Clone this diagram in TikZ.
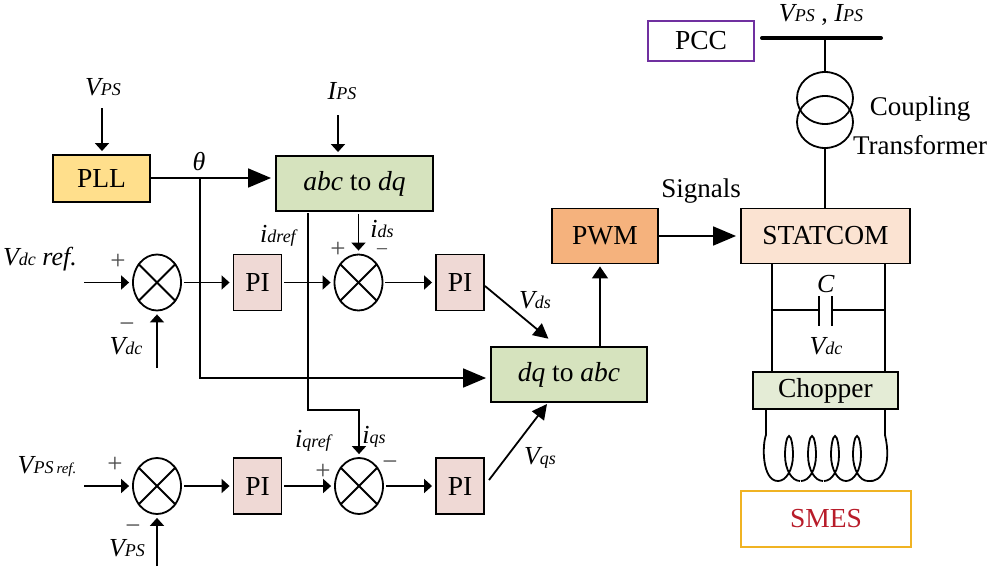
\documentclass[tikz,border=0pt]{standalone}
\usepackage{fontspec}
\setmainfont{Liberation Serif}
\usepackage{tikz}
\usetikzlibrary{arrows.meta, shapes.geometric}

\definecolor{pllfill}{HTML}{FFDF8C}
\definecolor{dqfill}{HTML}{D6E3BE}
\definecolor{pifill}{HTML}{EFD9D5}
\definecolor{pwmfill}{HTML}{F5B27D}
\definecolor{statfill}{HTML}{FBE3D2}
\definecolor{chopfill}{HTML}{E4ECD6}
\definecolor{pccline}{HTML}{7030A0}
\definecolor{smesline}{HTML}{F0B323}
\definecolor{smestext}{HTML}{B81C2A}

\newcommand{\lab}[2]{\textit{#1{\fontsize{18}{18}\selectfont #2}}}

\tikzset{
  blk/.style={draw, line width=1.9pt, minimum width=#1, inner sep=0pt, font=\fontsize{27.5}{27.5}\selectfont},
  pibox/.style={blk=48pt, fill=pifill, minimum height=56pt},
  sumnode/.style={draw, ellipse, line width=1.8pt, minimum width=48pt, minimum height=56pt, inner sep=0pt},
  sig/.style={line width=1.8pt, -{Triangle[length=8pt,width=14pt]}, shorten >=3pt, shorten <=2pt},
  bigsig/.style={line width=1.8pt, -{Triangle[length=23pt,width=19pt]}, shorten >=4pt},
  wire/.style={line width=1.8pt},
  txt/.style={inner sep=0pt, font=\fontsize{26}{26}\selectfont},
  note/.style={inner sep=0pt, font=\fontsize{27}{27}\selectfont},
  sign/.style={inner sep=0pt, text=black!70, font=\fontsize{27}{27}\selectfont},
}

\begin{document}
\begin{tikzpicture}[x=1pt,y=-1pt]
\useasboundingbox (0,0) rectangle (991,571);

% blocks
\node[blk=97pt, fill=pllfill, minimum height=47pt] (pll) at (101.5,178.5) {PLL};
\node[blk=157pt, fill=dqfill, minimum height=55pt] (abcdq) at (354.5,183.5) {\textit{abc} to \textit{dq}};
\node[blk=156pt, fill=dqfill, minimum height=55pt] (dqabc) at (569,374.5) {\textit{dq} to \textit{abc}};
\node[blk=106pt, fill=pwmfill, minimum height=55pt] (pwm) at (605,236) {PWM};
\node[blk=169pt, fill=statfill, minimum height=55pt] (statcom) at (825.5,236) {STATCOM};
\node[blk=145pt, fill=chopfill, minimum height=37pt] (chopper) at (825.5,390.5) {Chopper};
\node[blk=106pt, draw=pccline, minimum height=40pt] (pcc) at (701,41) {PCC};
\node[blk=170pt, draw=smesline, text=smestext, minimum height=56pt] (smes) at (826,519) {SMES};

\node[pibox] (pia) at (257.5,282.5) {PI};
\node[pibox] (pib) at (460,282.5) {PI};
\node[pibox] (pic) at (257.5,486) {PI};
\node[pibox] (pid) at (460,486) {PI};

\node[sumnode] (suma) at (157,282.5) {};
\node[sumnode] (sumb) at (358.5,282.5) {};
\node[sumnode] (sumc) at (157,486) {};
\node[sumnode] (sumd) at (359,486) {};
\foreach \s in {suma,sumb,sumc,sumd} {
  \draw[wire] (\s.45) -- (\s.225);
  \draw[wire] (\s.135) -- (\s.315);
}

% free ends of the signal lines
\coordinate (vpstop) at (102,106);
\coordinate (ipstop) at (338,113);
\coordinate (vdcin) at (82,282.5);
\coordinate (vdcup) at (157,370);
\coordinate (vpsin) at (82,486);
\coordinate (vpsup) at (157,568);
\coordinate (thetatap) at (200,178);
\coordinate (thetaturn) at (200,378);
\coordinate (iqa) at (308,211);
\coordinate (iqb) at (308,410);
\coordinate (iqc) at (359,410);
\coordinate (vdsend) at (550,340);
\coordinate (vqsstart) at (489,480);
\coordinate (vqsend) at (547,404);
\coordinate (pwmlink) at (600,347);

% control loop
\draw[sig] (vpstop) -- (pll.north -| vpstop);
\draw[sig] (ipstop) -- (abcdq.north -| ipstop);
\draw[bigsig] (pll.east |- thetatap) -- (abcdq.west |- thetatap);
\draw[bigsig] (thetatap) -- (thetaturn) -- (dqabc.west |- thetaturn);

\draw[sig] (vdcin) -- (suma.west);
\draw[sig] (vdcup) -- (suma.south);
\draw[sig] (suma.east) -- (pia.west);
\draw[sig] (pia.east) -- (sumb.west);
\draw[sig] (abcdq.south -| sumb) -- (sumb.north);
\draw[sig] (sumb.east) -- (pib.west);
\draw[line width=1.8pt, -{Triangle[length=15pt,width=15pt]}, shorten >=2pt] (pib.east |- 0,286) -- (vdsend);

\draw[sig] (vpsin) -- (sumc.west);
\draw[sig] (vpsup) -- (sumc.south);
\draw[sig] (sumc.east) -- (pic.west);
\draw[sig] (pic.east) -- (sumd.west);
\draw[sig] (iqa) -- (iqb) -- (iqc) -- (sumd.north);
\draw[sig] (sumd.east) -- (pid.west);
\draw[line width=1.8pt, -{Triangle[length=15pt,width=15pt]}] (vqsstart) -- (vqsend);

\draw[line width=1.8pt, -{Triangle[length=12pt,width=16pt]}, shorten >=2pt] (pwmlink) -- (pwm.south -| pwmlink);
\draw[bigsig] (pwm.east) -- (statcom.west);

% bus and transformer
\coordinate (busl) at (762,38);
\coordinate (busr) at (881,38);
\coordinate (buslink) at (825,38);
\draw[line width=4pt, line cap=round] (busl) -- (busr);
\node[draw, ellipse, line width=1.8pt, minimum width=56pt, minimum height=52pt, inner sep=0pt] (tra) at (825,98) {};
\node[draw, ellipse, line width=1.8pt, minimum width=56pt, minimum height=52pt, inner sep=0pt] (trb) at (825,122) {};
\draw[wire] (buslink) -- (tra.north);
\draw[wire] (trb.south) -- (statcom.north -| trb);

% dc link with capacitor
\coordinate (dcl) at (772,310);
\coordinate (dcr) at (885,310);
\coordinate (capl) at (819,310);
\coordinate (capr) at (832,310);
\draw[wire] (statcom.south -| dcl) -- (chopper.north -| dcl);
\draw[wire] (statcom.south -| dcr) -- (chopper.north -| dcr);
\draw[wire] (dcl) -- (capl);
\draw[wire] (capr) -- (dcr);
\draw[wire] (819,296) -- (819,326);
\draw[wire] (832,296) -- (832,326);

% smes coil
\coordinate (coill) at (766,435);
\coordinate (coilr) at (885,435);
\draw[wire] (chopper.south -| coill) -- (coill);
\draw[wire] (chopper.south -| coilr) -- (coilr);
\draw[wire] (coill) .. controls (762,445) and (762,481) .. (778,481);
\foreach \t in {789,812,835,857} {
  \draw[wire] ({\t-11},481) .. controls ({\t-3},481) and ({\t+4},470) .. ({\t+4},455)
    .. controls ({\t+4},445) and ({\t+2},436) .. (\t,436)
    .. controls ({\t-2},436) and ({\t-4},445) .. ({\t-4},455)
    .. controls ({\t-4},470) and ({\t+3},481) .. ({\t+11},481);
}
\draw[wire] (868,481) .. controls (882,483) and (892,465) .. (coilr);

% labels
\node[txt] (lvpstop) at (103,87) {\lab{V}{PS}};
\node[txt] (lipstop) at (342,91) {\lab{I}{PS}};
\node[txt] (ltheta) at (199,162) {\textit{θ}};
\node[txt] (lvdcref) at (40,259) {\lab{V}{dc} \textit{ref.}};
\node[sign] (pa) at (118,262) {+};
\node[sign] (ma) at (127,328) {−};
\node[txt] (lvdc) at (126,346) {\lab{V}{dc}};
\node[txt] (lidref) at (279,236) {\lab{i}{dref}};
\node[sign] (pb) at (338,250) {+};
\node[txt] (lids) at (382,229) {\lab{i}{ds}};
\node[sign, font=\fontsize{22}{22}\selectfont] (mb) at (382,253) {−};
\node[txt] (lvds) at (535,300) {\lab{V}{ds}};
\node[txt] (lvqs) at (540,458) {\lab{V}{qs}};
\node[txt] (liqref) at (314,441) {\lab{i}{qref}};
\node[sign] (pd) at (323,472) {+};
\node[txt] (liqs) at (374,437) {\lab{i}{qs}};
\node[sign] (md) at (390,466) {−};
\node[txt] (lvpsref) at (47,467) {\lab{V}{PS\,\fontsize{15}{15}\selectfont ref.}};
\node[sign] (pc) at (115,465) {+};
\node[sign] (mc) at (133,530) {−};
\node[txt] (lvpsin) at (127,548) {\lab{V}{PS}};
\node[note] (lsignals) at (701,191) {Signals};
\node[txt] (lcap) at (826,284) {\textit{C}};
\node[txt] (lvdclink) at (826,346) {\lab{V}{dc}};
\node[txt] (lbus) at (821,15) {\lab{V}{PS} , \lab{I}{PS}};
\node[note] (lcoupling) at (920,109) {Coupling};
\node[note] (ltransf) at (920,145) {Transformer};
\end{tikzpicture}
\end{document}
